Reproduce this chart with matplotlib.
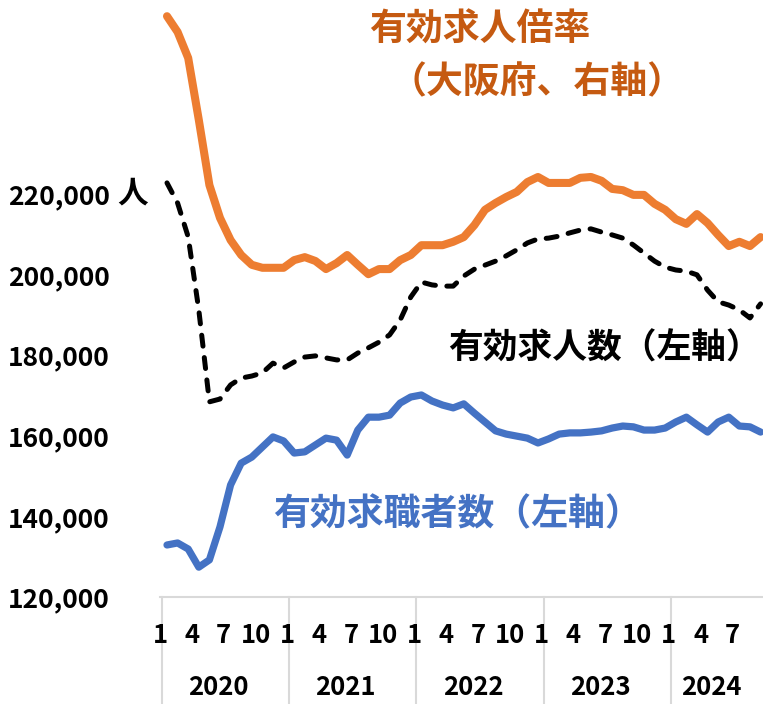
import numpy as np
import matplotlib.pyplot as plt
from matplotlib import transforms

plt.rcParams['font.family'] = ['Noto Sans CJK JP', 'DejaVu Sans']
plt.rcParams['font.weight'] = 'bold'

# 2020年1月 ～ 2024年9月（月次）
years = [2020, 2021, 2022, 2023, 2024]
month_marks = [1, 4, 7, 10]

# 有効求職者数（左軸）
seekers = [132900, 133400, 131900, 127400, 129200, 137400, 147800, 153200, 154700, 157200,
           159700, 158700, 155700, 156000, 157700, 159400, 158900, 155200, 161400, 164600,
           164600, 165100, 168100, 169600, 170100, 168600, 167600, 166900, 167900, 165600,
           163400, 161200, 160400, 159900, 159400, 158200, 159200, 160400, 160700, 160700,
           160900, 161200, 161900, 162400, 162200, 161400, 161400, 161900, 163400, 164600,
           162700, 160900, 163400, 164600, 162400, 162200, 160900]

# 有効求人数（左軸）
openings = [222700, 217700, 209300, 191200, 168400, 169100, 172600, 174300, 174800, 175600,
            178000, 176800, 178300, 179500, 179800, 179300, 178800, 178800, 180500, 181800,
            183200, 185000, 188700, 194400, 198100, 197400, 197100, 197100, 199600, 201300,
            202300, 203300, 204600, 206100, 207800, 208800, 209000, 209500, 210300, 211000,
            211300, 210500, 209800, 209000, 207300, 205300, 203300, 201800, 201100, 200800,
            199900, 196100, 193200, 192400, 191200, 189200, 192700]

# 有効求人倍率（大阪府、右軸）
ratio = [1.762, 1.725, 1.664, 1.519, 1.366, 1.289, 1.237, 1.202, 1.179, 1.172,
         1.172, 1.172, 1.190, 1.197, 1.188, 1.169, 1.183, 1.202, 1.179, 1.157,
         1.169, 1.169, 1.190, 1.202, 1.225, 1.225, 1.225, 1.233, 1.244, 1.272,
         1.308, 1.324, 1.338, 1.350, 1.373, 1.385, 1.371, 1.371, 1.371, 1.383,
         1.385, 1.376, 1.357, 1.354, 1.343, 1.343, 1.322, 1.308, 1.286, 1.275,
         1.298, 1.277, 1.249, 1.223, 1.233, 1.223, 1.244]

yticks = [120000, 140000, 160000, 180000, 200000, 220000]

x = np.arange(len(seekers))
W, H = 763, 704

fig = plt.figure(figsize=(W / 100, H / 100), dpi=100)
ax = fig.add_axes([160 / W, 107 / H, 603 / W, 597 / H])
ax2 = ax.twinx()

ax.plot(x, seekers, color='#4472C4', lw=5.2, solid_capstyle='round', solid_joinstyle='round')
ax.plot(x, openings, color='black', lw=3.6, dashes=(2.2, 2.3), dash_capstyle='round')
ax2.plot(x, ratio, color='#ED7D31', lw=5.8, solid_capstyle='round', solid_joinstyle='round')

ax.set_xlim(-0.66, 56.23)
ax.set_ylim(120000, 268056)
ax2.set_ylim(0.4, 1.8)

for a in (ax, ax2):
    for s in a.spines.values():
        s.set_visible(False)
ax.spines['bottom'].set_visible(True)
ax.spines['bottom'].set_color('#D9D9D9')
ax.spines['bottom'].set_linewidth(1.5)

ax.set_xticks([])
ax2.set_yticks([])
ax.set_yticks(yticks)
ax.set_yticklabels([f'{v:,}' for v in yticks], fontsize=19, fontweight='bold')
ax.tick_params(axis='y', length=0, pad=36)
ax.text(-43 / 603, 220000, '人', transform=transforms.blended_transform_factory(ax.transAxes, ax.transData),
        ha='left', va='center', fontsize=22)

# 月・年の目盛
tr = transforms.blended_transform_factory(ax.transData, ax.transAxes)
last = len(seekers) - 1
for k, yr in enumerate(years):
    for m in month_marks:
        idx = 12 * k + m - 1
        if idx > last:
            continue
        ax.text(idx - 0.65, -0.0653, str(m), transform=tr, ha='center', va='center', fontsize=18.5)
    start = 12 * k - 0.47
    end = min(12 * k + 11.5, last + 0.5)
    ax.text((start + end) / 2 - 0.65, -0.1524, str(yr), transform=tr,
            ha='center', va='center', fontsize=18.5)
    ax.plot([start, start], [0, -0.18], transform=tr, color='#D9D9D9', lw=1.5, clip_on=False)

# 系列名
fig.text(369 / W, 1 - 30 / H, '有効求人倍率', color='#C55A11', fontsize=26.6, ha='left', va='center')
fig.text(390 / W, 1 - 83 / H, '（大阪府、右軸）', color='#C55A11', fontsize=26.6, ha='left', va='center')
fig.text(448 / W, 1 - 348 / H, '有効求人数（左軸）', color='black', fontsize=25, ha='left', va='center')
fig.text(273 / W, 1 - 515 / H, '有効求職者数（左軸）', color='#4472C4', fontsize=26.6, ha='left', va='center')

fig.savefig('out.png', dpi=100)
